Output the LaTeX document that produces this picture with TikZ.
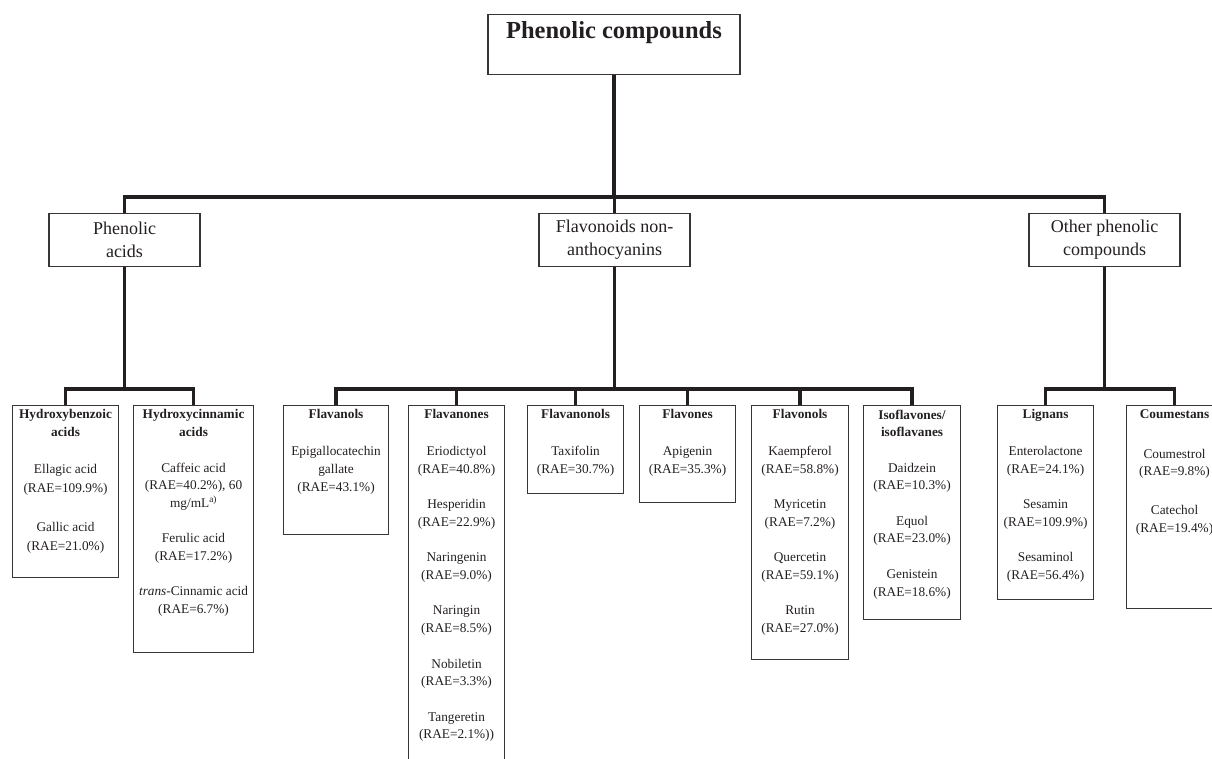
\documentclass[tikz,border=0pt]{standalone}
\usepackage{fontspec}
\setmainfont{Liberation Serif}
\definecolor{ink}{RGB}{35,31,32}
\begin{document}
\begin{tikzpicture}[x=1pt,y=-1pt,
  conn/.style={draw=ink, line width=3.8pt},
  box/.style={draw=ink!90, line width=1.1pt, inner sep=0pt},
  leaftext/.style={inner sep=0pt, align=center, font=\fontsize{13.3}{17.7}\selectfont, text=ink},
  midbox/.style={box, align=center, minimum width=151pt, minimum height=53pt, font=\fontsize{18}{23}\selectfont, text=ink},
]
\path[use as bounding box] (0,0) rectangle (1212,759);
\clip (0,0) rectangle (1212,759);

% top
\node[box, anchor=north, minimum width=252pt, minimum height=60pt] (top) at (614,14) {};
\node[anchor=base, inner sep=0pt, font=\fontsize{24.5}{28}\selectfont\bfseries, text=ink] (topt) at (614,39) {Phenolic compounds};

% middle level
\node[midbox, anchor=north] (pa) at (124.5,213) {Phenolic\\acids};
\node[midbox, anchor=north] (fna) at (614.5,213) {Flavonoids non-\\anthocyanins};
\node[midbox, anchor=north] (opc) at (1104.5,213) {Other phenolic\\compounds};

% leaf boxes
\node[box, anchor=north west, minimum width=106pt, minimum height=172pt] (hb) at (12,405) {};
\node[box, anchor=north west, minimum width=120pt, minimum height=247pt] (hc) at (133,405) {};
\node[box, anchor=north west, minimum width=105pt, minimum height=129pt] (fl) at (283,405) {};
\node[box, anchor=north west, minimum width=96pt, minimum height=380pt] (fn) at (408,405) {};
\node[box, anchor=north west, minimum width=96pt, minimum height=88pt] (fnl) at (527,405) {};
\node[box, anchor=north west, minimum width=96pt, minimum height=97pt] (fv) at (639,405) {};
\node[box, anchor=north west, minimum width=97pt, minimum height=254pt] (fo) at (751,405) {};
\node[box, anchor=north west, minimum width=97pt, minimum height=214pt] (iso) at (863,405) {};
\node[box, anchor=north west, minimum width=96pt, minimum height=194pt] (lig) at (997,405) {};
\node[box, anchor=north west, minimum width=96pt, minimum height=203pt] (cou) at (1126,405) {};

% leaf texts
\node[leaftext, anchor=north] (hbt) at ([yshift=-4.5pt]hb.north) {\textbf{Hydroxybenzoic}\\\textbf{acids}\\[19pt]Ellagic acid\\[1.3pt](RAE=109.9\%)\\[21pt]Gallic acid\\[1.3pt](RAE=21.0\%)};
\node[leaftext, anchor=north] (hct) at ([yshift=-4.5pt]hc.north) {\textbf{Hydroxycinnamic}\\\textbf{acids}\\[17.7pt]Caffeic acid\\(RAE=40.2\%), 60\\mg/mL\textsuperscript{a)}\\[17.7pt]Ferulic acid\\(RAE=17.2\%)\\[17.7pt]\textit{trans}-Cinnamic acid\\(RAE=6.7\%)};
\node[leaftext, anchor=north] (flt) at ([yshift=-4.5pt]fl.north) {\textbf{Flavanols}\\[19pt]Epigallocatechin\\gallate\\(RAE=43.1\%)};
\node[leaftext, anchor=north] (fnt) at ([yshift=-4.5pt]fn.north) {\textbf{Flavanones}\\[19pt]Eriodictyol\\(RAE=40.8\%)\\[17.7pt]Hesperidin\\(RAE=22.9\%)\\[17.7pt]Naringenin\\(RAE=9.0\%)\\[17.7pt]Naringin\\(RAE=8.5\%)\\[17.7pt]Nobiletin\\(RAE=3.3\%)\\[17.7pt]Tangeretin\\(RAE=2.1\%))};
\node[leaftext, anchor=north] (fnlt) at ([yshift=-4.5pt]fnl.north) {\textbf{Flavanonols}\\[19pt]Taxifolin\\(RAE=30.7\%)};
\node[leaftext, anchor=north] (fvt) at ([yshift=-4.5pt]fv.north) {\textbf{Flavones}\\[19pt]Apigenin\\(RAE=35.3\%)};
\node[leaftext, anchor=north] (fot) at ([yshift=-4.5pt]fo.north) {\textbf{Flavonols}\\[19pt]Kaempferol\\(RAE=58.8\%)\\[17.7pt]Myricetin\\(RAE=7.2\%)\\[17.7pt]Quercetin\\(RAE=59.1\%)\\[17.7pt]Rutin\\(RAE=27.0\%)};
\node[leaftext, anchor=north] (isot) at ([yshift=-4.5pt]iso.north) {\textbf{Isoflavones/}\\\textbf{isoflavanes}\\[17.7pt]Daidzein\\(RAE=10.3\%)\\[17.7pt]Equol\\(RAE=23.0\%)\\[17.7pt]Genistein\\(RAE=18.6\%)};
\node[leaftext, anchor=north] (ligt) at ([yshift=-4.5pt]lig.north) {\textbf{Lignans}\\[19pt]Enterolactone\\(RAE=24.1\%)\\[17.7pt]Sesamin\\(RAE=109.9\%)\\[17.7pt]Sesaminol\\(RAE=56.4\%)};
\node[leaftext, anchor=north] (cout) at ([yshift=-4.5pt]cou.north) {\textbf{Coumestans}\\[22pt]Coumestrol\\(RAE=9.8\%)\\[21pt]Catechol\\(RAE=19.4\%)};

% connectors
\coordinate (tb) at (614,197);
\draw[conn] (top.south) -- (tb) -- (tb -| fna.north) -- (fna.north);
\draw[conn] (pa.north) |- (tb) -| (opc.north);

\coordinate (pab) at (124.5,389);
\draw[conn] (pa.south) -- (pab);
\draw[conn] (hb.north) |- (pab) -| (hc.north);

\coordinate (fnab) at (614.5,389);
\draw[conn] (fna.south) -- (fnab);
\draw[conn] (fl.north) |- (fnab) -| (iso.north);
\foreach \n in {fn,fnl,fv,fo} \draw[conn] (\n.north) -- (\n.north |- fnab);

\coordinate (opcb) at (1104.5,389);
\draw[conn] (opc.south) -- (opcb);
\draw[conn] (lig.north) |- (opcb) -| (cou.north);
\end{tikzpicture}
\end{document}
